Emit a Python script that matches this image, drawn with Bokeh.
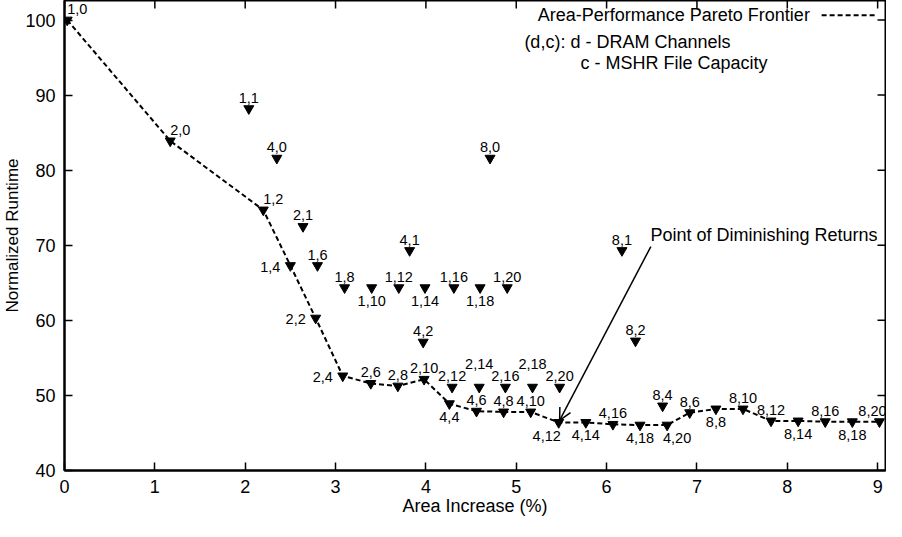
import math
from bokeh.plotting import figure
from bokeh.models import (ColumnDataSource, LabelSet, Label, Arrow, OpenHead,
                          FixedTicker, Range1d)
from bokeh.core.properties import value
from bokeh.embed import file_html
from bokeh.resources import INLINE

# ---- data -------------------------------------------------------------
dram = [1, 2, 1, 4, 1, 2, 4, 1, 1, 1, 1, 1, 1, 1, 1, 1, 2, 8, 8, 8, 4,
        2, 2, 2, 2, 2, 2, 2, 2, 2, 4, 4, 4, 4, 4, 4, 4, 4, 4,
        8, 8, 8, 8, 8, 8, 8, 8, 8]
mshr = [0, 0, 1, 0, 2, 1, 1, 4, 6, 8, 10, 12, 14, 16, 18, 20, 2, 0, 1, 2, 2,
        4, 6, 8, 10, 12, 14, 16, 18, 20, 4, 6, 8, 10, 12, 14, 16, 18, 20,
        4, 6, 8, 10, 12, 14, 16, 18, 20]
area = [0.03, 1.17, 2.04, 2.35, 2.20, 2.64, 3.82, 2.50, 2.80, 3.10, 3.40, 3.70,
        3.99, 4.31, 4.60, 4.90, 2.78, 4.71, 6.17, 6.32, 3.97,
        3.08, 3.39, 3.69, 3.98, 4.29, 4.59, 4.88, 5.18, 5.48,
        4.26, 4.56, 4.86, 5.16, 5.47, 5.77, 6.07, 6.37, 6.67,
        6.62, 6.92, 7.21, 7.51, 7.82, 8.12, 8.42, 8.72, 9.02]
runtime = [100.0, 83.9, 88.2, 81.6, 74.7, 72.5, 69.3, 67.3, 67.3, 64.35, 64.35,
           64.35, 64.35, 64.35, 64.35, 64.35, 60.3, 81.6, 69.3, 57.25, 57.1,
           52.6, 51.6, 51.25, 52.15, 51.1, 51.1, 51.1, 51.1, 51.1,
           48.9, 47.9, 47.8, 47.8, 46.4, 46.4, 46.15, 46.05, 46.05,
           48.6, 47.7, 48.2, 48.2, 46.6, 46.6, 46.5, 46.5, 46.5]
label_pos = ["ar", "ar", "a", "a", "ar", "a", "a", "l", "a", "a", "b", "a",
             "b", "a", "b", "a", "l", "a", "a", "a", "a",
             "l", "a", "a", "a", "a", "a2", "a", "a2", "a",
             "b", "a", "a", "a", "bl", "b", "a", "b", "br",
             "a", "a", "b", "a", "a", "b", "a", "b", "aL"]

frontier = ["1,0", "2,0", "1,2", "1,4", "2,2", "2,4", "2,6", "2,8", "2,10",
            "4,4", "4,6", "4,8", "4,10", "4,12", "4,14", "4,16", "4,18", "4,20",
            "8,6", "8,8", "8,10", "8,12", "8,14", "8,16", "8,18", "8,20"]

x_ticks = [0, 1, 2, 3, 4, 5, 6, 7, 8, 9]
y_ticks = [40, 50, 60, 70, 80, 90, 100]

legend_title = "Area-Performance Pareto Frontier"
legend_note1 = "(d,c): d - DRAM Channels"
legend_note2 = "c - MSHR File Capacity"
annotation_text = "Point of Diminishing Returns"

# ---- styling ----------------------------------------------------------
FONT = "Liberation Sans"
OFFSETS = {"a": (0, 11), "b": (0, -13), "l": (-20, -1), "ar": (10, 11),
           "a2": (0, 23), "bl": (-12, -14), "br": (10, -13), "aL": (-7, 11)}
X0, X1 = 0, 9.087
Y0, Y1 = 40, 102.6

labels = [f"{d},{c}" for d, c in zip(dram, mshr)]
src = ColumnDataSource(dict(
    area=area, runtime=runtime, label=labels,
    dx=[OFFSETS[k][0] for k in label_pos],
    dy=[OFFSETS[k][1] for k in label_pos],
))
idx = {lab: i for i, lab in enumerate(labels)}
fx = [area[idx[k]] for k in frontier]
fy = [runtime[idx[k]] for k in frontier]

p = figure(width=886, height=521,
           x_range=Range1d(X0, X1), y_range=Range1d(Y0, Y1),
           output_backend="svg", toolbar_location=None,
           min_border_left=59, min_border_right=1,
           min_border_top=0, min_border_bottom=51)
p.background_fill_color = "white"
p.border_fill_color = "white"
p.outline_line_color = "black"
p.outline_line_width = 2
p.xgrid.visible = False
p.ygrid.visible = False

for ax, ticks in ((p.xaxis[0], x_ticks), (p.yaxis[0], y_ticks)):
    ax.ticker = FixedTicker(ticks=ticks)
    ax.axis_line_color = "black"
    ax.axis_line_width = 2
    ax.major_tick_in = 8
    ax.major_tick_out = 0
    ax.major_tick_line_width = 1.5
    ax.major_tick_line_color = "black"
    ax.minor_tick_line_color = None
    ax.major_label_text_font = FONT
    ax.major_label_text_color = "black"
    ax.major_label_text_font_size = "18px"
    ax.major_label_standoff = 9
    ax.axis_label_text_font = FONT
    ax.axis_label_text_font_style = "normal"
    ax.axis_label_text_color = "black"
    ax.axis_label_standoff = 0
p.xaxis.axis_label = "Area Increase (%)"
p.yaxis.axis_label = "Normalized Runtime"
p.xaxis.axis_label_text_font_size = "18px"
p.yaxis.axis_label_text_font_size = "17px"

# mirror ticks on the top and right borders (half of each dash is clipped)
p.scatter(x=x_ticks, y=[Y1] * len(x_ticks), marker="dash", angle=math.pi / 2,
          size=16, line_color="black", line_width=1.5)
p.scatter(x=[X1] * len(y_ticks), y=y_ticks, marker="dash",
          size=16, line_color="black", line_width=1.5)

# frontier line
p.line(fx, fy, line_color="black", line_width=2, line_dash="5 3")

# points
p.scatter(x="area", y="runtime", source=src, marker="inverted_triangle",
          size=10, fill_color="black", line_color="black", line_width=1)

p.add_layout(LabelSet(x="area", y="runtime", text="label", source=src,
                      x_offset="dx", y_offset="dy",
                      text_align="center", text_baseline="middle",
                      text_font=value(FONT), text_font_size=value("14.5px"),
                      text_color="black"))

# legend-like key
p.add_layout(Label(x=8.25, y=100.64, text=legend_title, text_align="right",
                   text_baseline="middle", text_font=FONT,
                   text_font_size="18px", text_color="black"))
p.line([8.38, 8.97], [100.64, 100.64], line_color="black", line_width=2,
       line_dash="5 3")
p.add_layout(Label(x=5.09, y=97.1, text=legend_note1, text_align="left",
                   text_baseline="middle", text_font=FONT,
                   text_font_size="18px", text_color="black"))
p.add_layout(Label(x=5.71, y=94.25, text=legend_note2, text_align="left",
                   text_baseline="middle", text_font=FONT,
                   text_font_size="18px", text_color="black"))

# annotation arrow
p.add_layout(Arrow(end=OpenHead(size=12, line_width=1.5, line_color="black"),
                   x_start=6.49, y_start=69.83, x_end=5.48, y_end=46.67,
                   line_width=1.5, line_color="black"))
p.add_layout(Label(x=6.485, y=71.43, text=annotation_text, text_align="left",
                   text_baseline="middle", text_font=FONT,
                   text_font_size="18px", text_color="black"))

open("out.html", "w").write(file_html(p, INLINE))
